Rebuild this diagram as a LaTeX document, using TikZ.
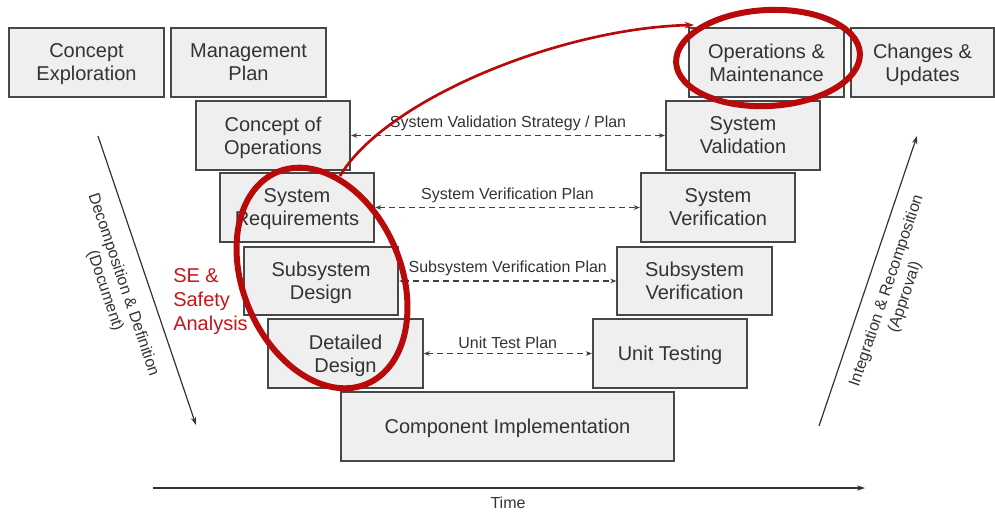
\documentclass[tikz,border=0pt]{standalone}
\usepackage{fontspec}
\setmainfont{Liberation Sans}
\usetikzlibrary{arrows.meta}
\definecolor{boxfill}{HTML}{EFEFEF}
\definecolor{boxline}{HTML}{474747}
\definecolor{ringred}{HTML}{B80A0A}
\definecolor{notered}{HTML}{C4161C}
\begin{document}
\begin{tikzpicture}[x=0.75pt,y=-0.75pt,
    box/.style={draw=boxline,line width=1.3pt,fill=boxfill,align=center,inner sep=0pt,
      minimum width=116pt,minimum height=51.5pt,text=black!80,text depth=-1pt,
      font=\fontsize{15}{17.25}\selectfont},
    plan/.style={draw=black!75,line width=1.1pt,dash pattern=on 4.5pt off 3pt,
      {Stealth[length=4.5pt,width=3.5pt]}-{Stealth[length=4.5pt,width=3.5pt]}},
    planlabel/.style={midway,above=3pt,inner sep=0pt,text=black!80,
      font=\fontsize{12}{14}\selectfont},
    axis/.style={draw=black!80,line width=0.9pt,-{Stealth[length=6pt,width=4pt]}},
    axislabel/.style={align=center,text=black!80,font=\fontsize{12}{14.5}\selectfont},
    ring/.style={draw=ringred,line width=4.5pt}]
  \useasboundingbox (0,0) rectangle (995,513);
  \path
    (86.5,62.5) node[box] (ce) {Concept\\Exploration}
    (248.5,62.5) node[box] (mp) {Management\\Plan}
    (766.5,62.5) node[box] (om) {Operations \&\\Maintenance}
    (922.5,62.5) node[box,minimum width=107pt] (cu) {Changes \&\\Updates}
    (273,135.5) node[box] (co) {Concept of\\Operations}
    (743,135.5) node[box] (sval) {System\\Validation}
    (297,207.5) node[box] (sr) {System\\Requirements}
    (718,207.5) node[box] (sver) {System\\Verification}
    (321,281) node[box] (ssd) {Subsystem\\Design}
    (694.5,281) node[box] (ssv) {Subsystem\\Verification}
    (345.5,353.5) node[box] (dd) {Detailed\\Design}
    (670,353.5) node[box] (ut) {Unit Testing}
    (507.5,426.5) node[box,minimum width=250pt] (ci) {Component Implementation};
  \begin{scope}
    \draw[plan] (co.east) -- (sval.west) node[planlabel] {System Validation Strategy / Plan};
    \draw[plan] (sr.east) -- (sver.west) node[planlabel] {System Verification Plan};
    \draw[plan] (ssd.east) -- (ssv.west) node[planlabel] {Subsystem Verification Plan};
    \draw[plan] (dd.east) -- (ut.west) node[planlabel] {Unit Test Plan};
  \end{scope}
  % axes
  \coordinate (d0) at (98,136);
  \coordinate (d1) at (196,425);
  \coordinate (i0) at (819,426);
  \coordinate (i1) at (917,136);
  \coordinate (t0) at (153,488);
  \coordinate (t1) at (865,488);
  \draw[axis] (d0) -- (d1);
  \draw[axis] (i0) -- (i1);
  \draw[axis,line width=1.5pt] (t0) -- (t1);
  \node[axislabel,rotate=-71.3] (dec) at (114,288) {Decomposition \& Definition\\(Document)};
  \node[axislabel,rotate=71.3] (int) at (896,294) {Integration \& Recomposition\\(Approval)};
  \node[axislabel] (time) at (508,503) {Time};
  % safety analysis
  \node[align=left,anchor=west,inner sep=0pt,text=notered,
    font=\fontsize{15}{18}\selectfont] (se) at (173,302) {SE \&\\Safety\\Analysis};
  \draw[ring,rotate around={-67:(322,278)}] (322,278) ellipse [x radius=115,y radius=79];
  \draw[ring,rotate around={3:(768,58)}] (768,58) ellipse [x radius=92,y radius=48];
  \coordinate (r0) at (340,176);
  \coordinate (r1) at (694,25);
  \draw[draw=ringred,line width=2pt,-{Stealth[length=7pt,width=5pt]}]
    (r0) .. controls (385,100) and (560,28) .. (r1);
\end{tikzpicture}
\end{document}
